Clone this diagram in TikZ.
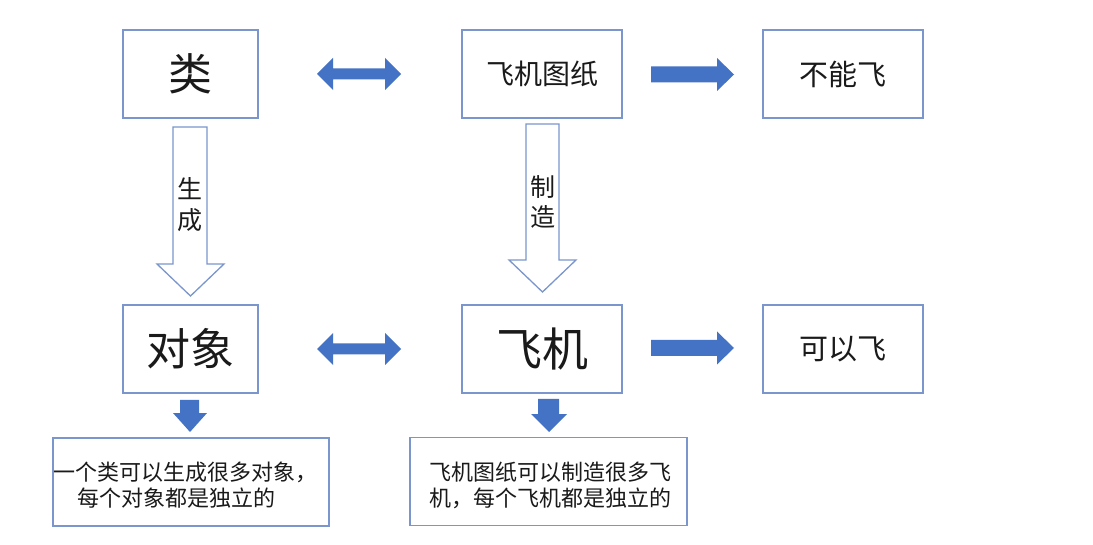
\documentclass[tikz,border=0pt]{standalone}
\usepackage{fontspec}
\setmainfont{Noto Sans CJK SC}
\definecolor{bord}{HTML}{7A96CC}
\definecolor{fillb}{HTML}{4472C4}
\definecolor{txt}{HTML}{1A1A1A}
\begin{document}
\begin{tikzpicture}[x=1pt,y=-1pt,
  box/.style={draw=bord,line width=1.3pt,inner sep=0pt,text=txt},
  blockarrow/.style={fill=fillb,draw=none},
  hollowarrow/.style={draw=bord,fill=white,line width=1.3pt,line join=miter},
  lbl/.style={text=txt,inner sep=0pt}]
\useasboundingbox[fill=white] (0,0) rectangle (1093,545);
% top row
\node[box,minimum width=135,minimum height=88] (lei) at (190.5,74) {\fontsize{44}{48}\selectfont 类};
\node[box,minimum width=160,minimum height=88] (tuzhi) at (542,74) {\fontsize{28}{32}\selectfont 飞机图纸};
\node[box,minimum width=160,minimum height=88] (buneng) at (843,74) {\fontsize{29}{33}\selectfont 不能飞};
% middle row
\node[box,minimum width=135,minimum height=88] (duixiang) at (190.5,349) {\fontsize{44}{48}\selectfont 对象};
\node[box,minimum width=160,minimum height=88] (feiji) at (542,349) {\fontsize{46}{50}\selectfont 飞机};
\node[box,minimum width=160,minimum height=88] (keyi) at (843,349) {\fontsize{29}{33}\selectfont 可以飞};
% bottom text boxes
\node[box,minimum width=276,minimum height=88] (desc1) at (191,482) {};
\node[lbl,anchor=west] (d1a) at (53,472) {\fontsize{22}{26}\selectfont 一个类可以生成很多对象，};
\node[lbl,anchor=west] (d1b) at (77,498) {\fontsize{22}{26}\selectfont 每个对象都是独立的};
\node[box,minimum width=277,minimum height=88] (desc2) at (548.5,481.5) {};
\node[lbl] (d2a) at (550,472) {\fontsize{22}{26}\selectfont 飞机图纸可以制造很多飞};
\node[lbl] (d2b) at (550,498) {\fontsize{22}{26}\selectfont 机，每个飞机都是独立的};
% double arrows
\foreach \yy in {74,349}{
  \fill[blockarrow] (317,\yy) -- (333,\yy-16) -- (333,\yy-5.5) -- (385,\yy-5.5) -- (385,\yy-16)
    -- (401,\yy) -- (385,\yy+16) -- (385,\yy+5.5) -- (333,\yy+5.5) -- (333,\yy+16) -- cycle;
}
% right arrows
\foreach \yy in {74.5,348}{
  \fill[blockarrow] (651,\yy-8) -- (717,\yy-8) -- (717,\yy-16.5) -- (734,\yy) -- (717,\yy+16.5)
    -- (717,\yy+8) -- (651,\yy+8) -- cycle;
}
% hollow arrows
\draw[hollowarrow] (173,127) -- (207,127) -- (207,264) -- (224,264) -- (190.5,296) -- (157,264) -- (173,264) -- cycle;
\draw[hollowarrow] (526,124) -- (559,124) -- (559,260) -- (576,260) -- (542.5,292) -- (509,260) -- (526,260) -- cycle;
\node[lbl] (sheng) at (190,189) {\fontsize{25}{28}\selectfont 生};
\node[lbl] (cheng) at (190,220) {\fontsize{25}{28}\selectfont 成};
\node[lbl] (zhi) at (542.5,187) {\fontsize{25}{28}\selectfont 制};
\node[lbl] (zao) at (542.5,217) {\fontsize{25}{28}\selectfont 造};
% small down arrows
\fill[blockarrow] (180,400) -- (199,400) -- (199,413) -- (207,413) -- (190,432) -- (173,413) -- (180,413) -- cycle;
\fill[blockarrow] (538,399) -- (559,399) -- (559,414) -- (567,414) -- (549,432) -- (531,414) -- (538,414) -- cycle;
\end{tikzpicture}
\end{document}
